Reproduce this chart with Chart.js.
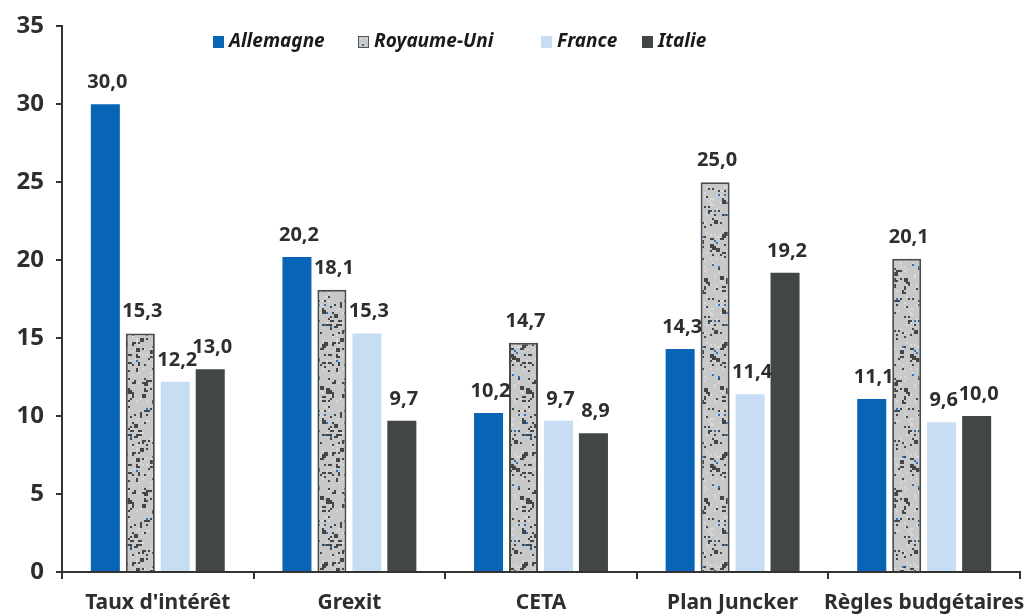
<!DOCTYPE html>
<html>
<head>
<meta charset="utf-8">
<script src="https://cdn.jsdelivr.net/npm/chart.js@4/dist/chart.umd.min.js"></script>
<style>
  html, body { margin: 0; padding: 0; background: #fff; }
  #wrap { width: 1024px; height: 616px; position: relative; }
</style>
</head>
<body>
<div id="wrap"><canvas id="c" width="1024" height="616"></canvas></div>
<script>
// Categories and series
const categories = ["Taux d'intérêt", "Grexit", "CETA", "Plan Juncker", "Règles budgétaires"];
const allemagne   = [30.0, 20.2, 10.2, 14.3, 11.1];
const royaumeUni  = [15.3, 18.1, 14.7, 25.0, 20.1];
const france      = [12.2, 15.3,  9.7, 11.4,  9.6];
const italie      = [13.0,  9.7,  8.9, 19.2, 10.0];
const seriesNames = ["Allemagne", "Royaume-Uni", "France", "Italie"];
const yTicks      = [0, 5, 10, 15, 20, 25, 30, 35];

const FONT = "'Noto Sans', 'DejaVu Sans', sans-serif";
const TEXT = '#2e2e2e';

// Speckled grey fill for the Royaume-Uni bars (fixed integer-hash texture)
function speckle() {
  const w = 50, h = 110;
  const cv = document.createElement('canvas');
  cv.width = w; cv.height = h;
  const g = cv.getContext('2d');
  g.fillStyle = '#c8c8c8';
  g.fillRect(0, 0, w, h);
  const mix = (a, b) => {
    let n = Math.imul(a + 1, 0x9E3779B1) ^ Math.imul(b + 7, 0x85EBCA77);
    n ^= n >>> 16; n = Math.imul(n, 0x7FEB352D);
    n ^= n >>> 15; n = Math.imul(n, 0x846CA68B);
    n ^= n >>> 16;
    return (n >>> 0) / 4294967296;
  };
  for (let i = 0; i < w / 2; i++) {
    for (let j = 0; j < h / 2; j++) {
      const r = mix(i, j);
      const x = i * 2, y = j * 2;
      if (r < 0.075) { g.fillStyle = '#454545'; g.fillRect(x, y, r < 0.025 ? 4 : 2, r < 0.012 ? 4 : 2); }
      else if (r < 0.09) { g.fillStyle = '#2c70b8'; g.fillRect(x, y, 2, 2); }
      else if (r < 0.15) { g.fillStyle = '#d8d8d8'; g.fillRect(x, y, 2, 2); }
    }
  }
  return g.createPattern(cv, 'repeat');
}

const colors = ['#0865b6', null, '#c6ddf4', '#424645'];
const legendX = [213, 358, 541, 642];

// Value labels above each bar, French decimal comma
const valueLabels = {
  id: 'valueLabels',
  afterDatasetsDraw(chart) {
    const ctx = chart.ctx;
    ctx.save();
    ctx.font = "bold 20px " + FONT;
    ctx.fillStyle = TEXT;
    ctx.textAlign = 'center';
    ctx.textBaseline = 'alphabetic';
    chart.data.datasets.forEach((ds, di) => {
      const meta = chart.getDatasetMeta(di);
      meta.data.forEach((bar, i) => {
        const v = ds.data[i];
        ctx.fillText(v.toFixed(1).replace('.', ','), bar.x + 2, bar.y - 16);
      });
    });
    ctx.restore();
  }
};

// Legend drawn inside the plot area, at the top
const innerLegend = {
  id: 'innerLegend',
  afterDraw(chart) {
    const ctx = chart.ctx;
    ctx.save();
    ctx.font = "italic bold 19px " + FONT;
    ctx.textBaseline = 'middle';
    ctx.textAlign = 'left';
    const y = 42;
    chart.data.datasets.forEach((ds, k) => {
      const x = legendX[k];
      ctx.fillStyle = ds.backgroundColor;
      ctx.fillRect(x, y - 6, 11, 12);
      if (ds.borderWidth) {
        ctx.strokeStyle = '#555';
        ctx.lineWidth = 1;
        ctx.strokeRect(x + 0.5, y - 5.5, 10, 11);
      }
      ctx.fillStyle = '#1a1a1a';
      ctx.fillText(ds.label, x + 16, y);
    });
    ctx.restore();
  }
};

const datasets = [allemagne, royaumeUni, france, italie].map((d, i) => ({
  label: seriesNames[i],
  data: d,
  backgroundColor: i === 1 ? speckle() : colors[i],
  borderColor: i === 1 ? '#4a4a4a' : colors[i],
  borderWidth: i === 1 ? 2 : 0,
  borderSkipped: 'bottom',
  categoryPercentage: 0.73,
  barPercentage: 0.83
}));

new Chart(document.getElementById('c'), {
  type: 'bar',
  data: { labels: categories, datasets },
  options: {
    responsive: false,
    animation: false,
    devicePixelRatio: 1,
    layout: { padding: { top: 25, right: 4, left: 0, bottom: 0 } },
    plugins: { legend: { display: false }, tooltip: { enabled: false } },
    scales: {
      x: {
        grid: { display: true, offset: true, drawOnChartArea: false, drawTicks: true, tickLength: 7, color: '#333', lineWidth: 2 },
        border: { display: true, color: '#333', width: 2 },
        ticks: { color: TEXT, font: { family: FONT, size: 21, weight: 'bold' }, padding: 11, maxRotation: 0, autoSkip: false },
        afterFit(s) { s.height = 44; s.paddingLeft = 0; s.paddingRight = 0; }
      },
      y: {
        min: 0, max: 35,
        afterBuildTicks(s) { s.ticks = yTicks.map(v => ({ value: v })); },
        grid: { display: true, drawOnChartArea: false, drawTicks: true, tickLength: 6, color: '#333', lineWidth: 2 },
        border: { display: true, color: '#333', width: 2 },
        ticks: { color: TEXT, font: { family: FONT, size: 24, weight: 'bold' }, padding: 12 },
        afterFit(s) { s.width = 62; }
      }
    }
  },
  plugins: [valueLabels, innerLegend]
});
</script>
</body>
</html>
